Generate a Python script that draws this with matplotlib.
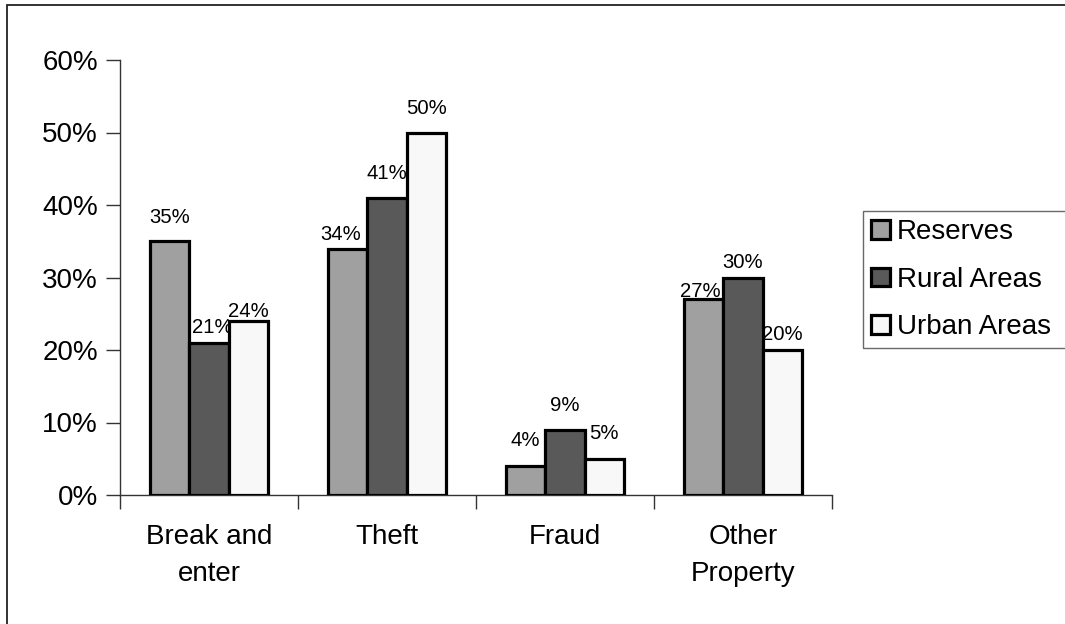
import matplotlib
matplotlib.use("Agg")
import matplotlib.pyplot as plt
from matplotlib.patches import Rectangle
import numpy as np

plt.rcParams['font.family'] = ['Liberation Sans', 'DejaVu Sans']

categories = ["Break and\nenter", "Theft", "Fraud", "Other\nProperty"]
series_names = ["Reserves", "Rural Areas", "Urban Areas"]
reserves = [35, 34, 4, 27]
rural = [21, 41, 9, 30]
urban = [24, 50, 5, 20]
yticks = [0, 10, 20, 30, 40, 50, 60]
ytick_labels = ["0%", "10%", "20%", "30%", "40%", "50%", "60%"]

series = [reserves, rural, urban]
colors = ["#A0A0A0", "#595959", "#F8F8F8"]
# per-label vertical offsets (pixels) mimicking the original label placement
label_dy = [[18, 8, 20, 2], [10, 19, 19, 9], [4, 19, 20, 10]]
label_dx = [[0, -7, 0, -3], [3, 0, 0, 0], [0, 0, 0, 0]]

W, H = 1065, 624
fig = plt.figure(figsize=(W / 100, H / 100), dpi=100)
ax = fig.add_axes([120 / W, 1 - 495 / H, (832 - 120) / W, (495 - 60) / H])

x = np.arange(len(categories))
bw = 0.221
px2pt = 72 / 100
for i, (vals, col) in enumerate(zip(series, colors)):
    bars = ax.bar(x + (i - 1) * bw, vals, width=bw, color=col, edgecolor="black",
                  linewidth=2.3, label=series_names[i], zorder=3)
    for j, (b, v) in enumerate(zip(bars, vals)):
        ax.annotate(f"{v}%", (b.get_x() + b.get_width() / 2, v),
                    xytext=(label_dx[i][j] * px2pt, label_dy[i][j] * px2pt),
                    textcoords="offset points", ha="center", va="baseline",
                    fontsize=14.6)

ax.set_xlim(-0.5, len(categories) - 0.5)
ax.set_ylim(0, 60)
ax.set_yticks(yticks)
ax.set_yticklabels(ytick_labels, fontsize=20)
ax.set_xticks(x)
ax.set_xticklabels(categories, fontsize=20, linespacing=1.55)
ax.tick_params(axis='x', length=0, pad=21)
ax.set_xticks(np.arange(len(categories) + 1) - 0.5, minor=True)
ax.tick_params(axis='x', which='minor', length=10, width=1, color="#333333", direction='out')
ax.tick_params(axis='y', length=10, width=1, color="#333333", direction='out', pad=6)
for s in ["top", "right"]:
    ax.spines[s].set_visible(False)
for s in ["left", "bottom"]:
    ax.spines[s].set_color("#333333")
    ax.spines[s].set_linewidth(1)

leg = fig.legend(loc="upper left",
                 bbox_to_anchor=(863 / W, 1 - 345 / H, 0.3, (345 - 211) / H),
                 mode="expand", fontsize=20, frameon=True, fancybox=False,
                 handlelength=0.66, handleheight=0.66, handletextpad=0.25,
                 labelspacing=0.77, borderpad=0.30, borderaxespad=0)
leg.get_frame().set_edgecolor("#444444")
leg.get_frame().set_linewidth(1)

fig.patches.append(Rectangle((7 / W, -0.1), 1.2, 1 - 5 / H + 0.1, transform=fig.transFigure,
                             fill=False, edgecolor="#222222", linewidth=1.3))

fig.savefig("out.png", dpi=100)
